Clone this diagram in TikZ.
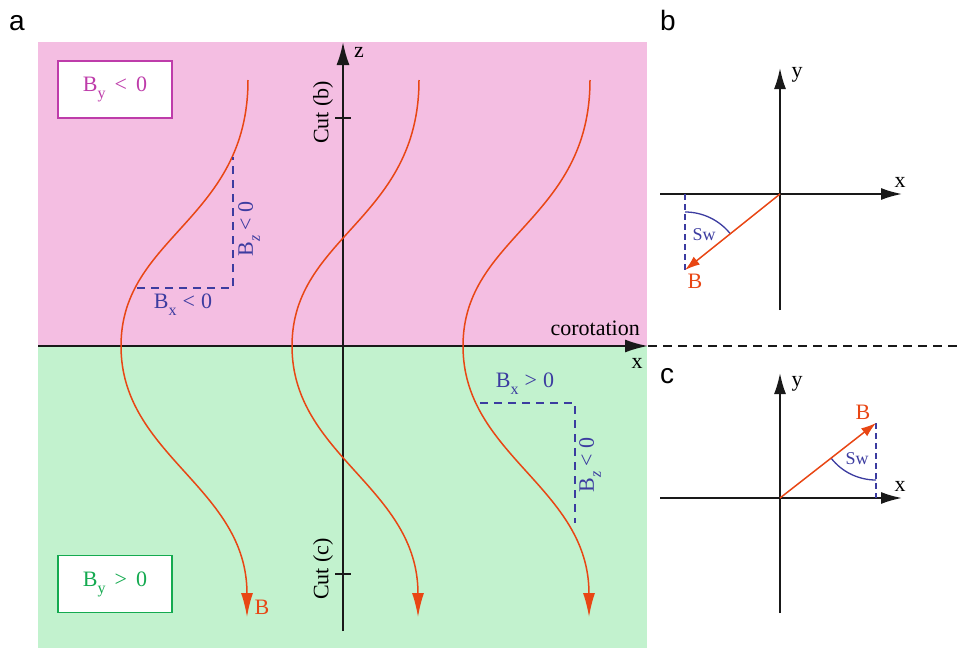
\documentclass[tikz,border=0pt]{standalone}
\usepackage{fontspec}
\setmainfont{Liberation Serif}
\newfontfamily\labfont{Liberation Sans}
\usetikzlibrary{arrows.meta}
\definecolor{pinkbg}{RGB}{244,190,226}
\definecolor{greenbg}{RGB}{194,242,206}
\definecolor{fieldc}{RGB}{232,70,20}
\definecolor{dashc}{RGB}{60,60,160}
\definecolor{magc}{RGB}{190,60,170}
\definecolor{grnc}{RGB}{20,170,80}
\definecolor{axc}{RGB}{25,25,25}
\newcommand\mysub[1]{\raisebox{-0.32em}{\fontsize{16}{16}\selectfont #1}}
\begin{document}
\begin{tikzpicture}[x=1pt,y=-1pt,
  txt/.style={font=\fontsize{22}{25}\selectfont, inner sep=0pt},
  smalltxt/.style={font=\fontsize{18}{20}\selectfont, inner sep=0pt},
  panellab/.style={font=\labfont\fontsize{28}{30}\selectfont, inner sep=0pt, anchor=base west},
  axisline/.style={line width=2pt, draw=axc, -{Latex[length=23pt,width=13pt]}},
  smallaxis/.style={line width=1.8pt, draw=axc, -{Latex[length=21pt,width=12pt]}},
  fline/.style={line width=1.5pt, draw=fieldc, -{Latex[length=24pt,width=12pt]}},
  bvec/.style={line width=1.5pt, draw=fieldc, -{Latex[length=15pt,width=10pt]}},
  compdash/.style={line width=1.4pt, draw=dashc, dash pattern=on 8pt off 6pt},
  legendbox/.style={draw, fill=white, line width=1.5pt, minimum width=114pt, minimum height=57pt, font=\fontsize{22}{25}\selectfont},
  tickmark/.style={line width=1.2pt, draw=axc}
]
\useasboundingbox (0,0) rectangle (958,648);

% backgrounds
\fill[pinkbg] (38,42) rectangle (647,346);
\fill[greenbg] (38,346) rectangle (647,648);

% panel labels
\node[panellab] (la) at (9,30) {a};
\node[panellab] (lb) at (660,30) {b};
\node[panellab] (lc) at (660,383) {c};

% legend boxes
\node[legendbox, draw=magc, text=magc] (byneg) at (115,89.5) {B\mysub{y}\hspace{9pt}<\hspace{9pt}0};
\node[legendbox, draw=grnc, text=grnc] (bypos) at (115,584) {B\mysub{y}\hspace{9pt}>\hspace{9pt}0};

% main axes
\coordinate (xl) at (38,346);
\coordinate (xr) at (648,346);
\coordinate (xfar) at (958,346);
\coordinate (zb) at (343,631);
\coordinate (zt) at (343,42);
\draw[line width=1.3pt, draw=axc, dash pattern=on 9pt off 6pt] (xr) -- (xfar);
\draw[axisline] (xl) -- (xr);
\draw[axisline] (zb) -- (zt);
\node[txt, anchor=base] (xlab) at (637,368) {x};
\node[txt, anchor=base] (zlab) at (359,57) {z};
\node[txt, anchor=base east] (corot) at (640,335) {corotation};

% cuts
\coordinate (tb1) at (335,118); \coordinate (tb2) at (351,118);
\coordinate (tc1) at (335,574); \coordinate (tc2) at (351,574);
\draw[tickmark] (tb1) -- (tb2);
\draw[tickmark] (tc1) -- (tc2);
\node[txt, rotate=90] (cutb) at (323,112.5) {Cut (b)};
\node[txt, rotate=90] (cutc) at (323,569) {Cut (c)};

% field lines
\foreach \s/\n in {0/1,171/2,342/3}{
  \coordinate (ft\n) at (248+\s,80);
  \coordinate (fm\n) at (121+\s,346);
  \coordinate (fb\n) at (247+\s,617);
  \draw[fline] (ft\n) .. controls ++(0,140) and ++(0,-110) .. (fm\n)
               .. controls ++(0,110) and ++(0,-130) .. (fb\n);
}
\node[txt, text=fieldc, anchor=base] (blab) at (262,614) {B};

% component annotations, left
\coordinate (d1a) at (137,288);
\coordinate (d1b) at (233,288);
\coordinate (d1c) at (233,157);
\draw[compdash] (d1a) -- (d1b) -- (d1c);
\node[txt, text=dashc] (bxneg) at (183,305) {B\mysub{x}\hspace{6pt}<\hspace{6pt}0};
\node[txt, text=dashc, rotate=90] (bzneg1) at (249,229) {B\mysub{\textit{z}}\hspace{5pt}<\hspace{5pt}0};

% component annotations, right
\coordinate (d2a) at (480,403);
\coordinate (d2b) at (575,403);
\coordinate (d2c) at (575,523);
\draw[compdash] (d2a) -- (d2b) -- (d2c);
\node[txt, text=dashc] (bxpos) at (525,384) {B\mysub{x}\hspace{6pt}>\hspace{6pt}0};
\node[txt, text=dashc, rotate=90] (bzneg2) at (590,465) {B\mysub{\textit{z}}\hspace{5pt}<\hspace{5pt}0};

% panel b
\coordinate (ob) at (780,194);
\coordinate (byb) at (780,310);
\coordinate (byt) at (780,68);
\coordinate (bxl) at (660,194);
\coordinate (bxr) at (902,194);
\coordinate (btip) at (685,270);
\coordinate (bdash) at (685,194);
\draw[smallaxis] (byb) -- (byt);
\draw[smallaxis] (bxl) -- (bxr);
\draw[compdash, line width=1.2pt, dash pattern=on 6pt off 4pt] (bdash) -- (btip);
\draw[line width=1.3pt, draw=dashc] (btip) ++(-90:58) arc[start angle=-90, end angle=-38.7, radius=58];
\draw[bvec] (ob) -- (btip);
\node[txt, anchor=base] (byl) at (797,77) {y};
\node[txt, anchor=base] (bxlab) at (900,187) {x};
\node[txt, text=fieldc, anchor=base] (bBl) at (695,288) {B};
\node[smalltxt, text=dashc, anchor=base] (bsw) at (704,240) {Sw};

% panel c
\coordinate (oc) at (780,498);
\coordinate (cyb) at (780,613);
\coordinate (cyt) at (780,373);
\coordinate (cxl) at (660,498);
\coordinate (cxr) at (902,498);
\coordinate (ctip) at (876,423);
\coordinate (cdash) at (876,498);
\draw[smallaxis] (cyb) -- (cyt);
\draw[smallaxis] (cxl) -- (cxr);
\draw[compdash, line width=1.2pt, dash pattern=on 6pt off 4pt] (ctip) -- (cdash);
\draw[line width=1.3pt, draw=dashc] (ctip) ++(142:57) arc[start angle=142, end angle=90, radius=57];
\draw[bvec] (oc) -- (ctip);
\node[txt, anchor=base] (cyl) at (797,386) {y};
\node[txt, anchor=base] (cxlab) at (900,491) {x};
\node[txt, text=fieldc, anchor=base] (cBl) at (863,419) {B};
\node[smalltxt, text=dashc, anchor=base] (csw) at (857,464) {Sw};
\end{tikzpicture}
\end{document}
